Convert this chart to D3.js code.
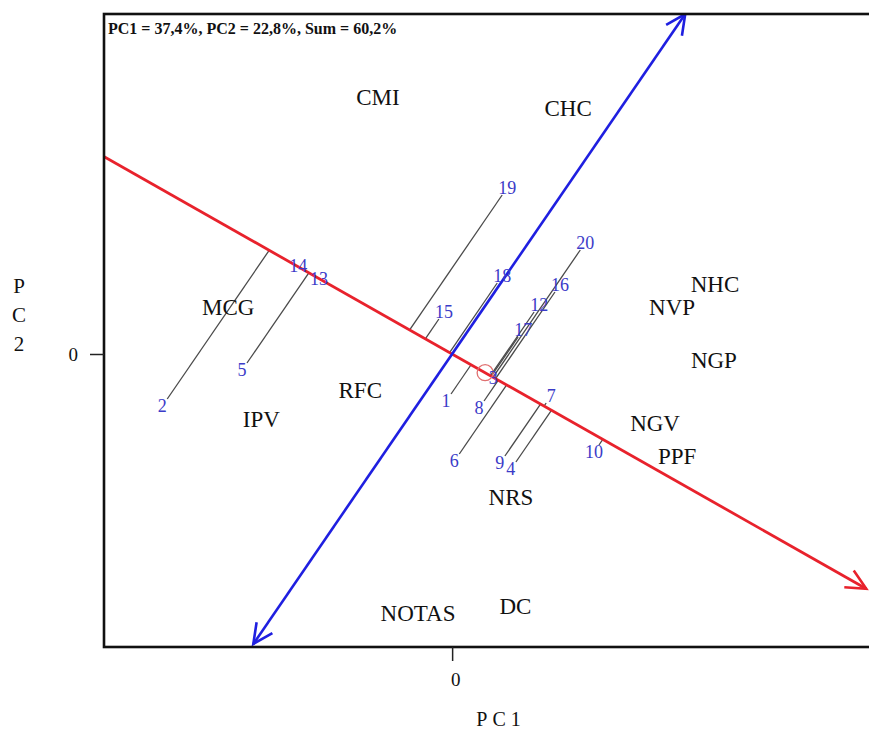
<!DOCTYPE html>
<html>
<head>
<meta charset="utf-8">
<script src="https://cdn.jsdelivr.net/npm/d3@7"></script>
<style>
  html, body { margin: 0; padding: 0; background: #fff; }
  svg { display: block; }
</style>
</head>
<body>
<svg id="chart" width="869" height="736"></svg>
<script>
// GGE biplot: average-environment coordination view
const subtitle = "PC1 = 37,4%, PC2 = 22,8%, Sum = 60,2%";
const xTicks = [0];
const yTicks = [0];
const xDomain = [-6.33, 7.78];
const yDomain = [-5.86, 6.8];

// genotype scores (PC1, PC2)
const genotypes = ["19", "18", "15", "20", "16", "12", "17", "3", "14", "13",
                   "2", "5", "1", "8", "6", "9", "4", "7", "10"];
const genoPC1 = [0.91, 0.82, -0.24, 2.33, 1.87, 1.49, 1.20, 0.75, -2.80, -2.42,
                 -5.18, -3.73, -0.02, 0.58, 0.13, 0.96, 1.16, 1.71, 2.67];
const genoPC2 = [3.18, 1.42, 0.70, 2.08, 1.24, 0.84, 0.34, -0.48, 1.76, 1.50,
                 -0.90, -0.18, -0.80, -0.94, -2.00, -2.04, -2.16, -0.98, -1.82];

// environment scores (PC1, PC2)
const environments = ["CMI", "CHC", "MCG", "NHC", "NVP", "NGP", "RFC", "IPV",
                      "NGV", "PPF", "NRS", "NOTAS", "DC"];
const envPC1 = [-1.35, 2.11, -4.07, 4.78, 4.00, 4.76, -1.67, -3.47, 3.69, 4.09, 1.07, -0.62, 1.15];
const envPC2 = [5.14, 4.92, 0.94, 1.40, 0.94, -0.12, -0.72, -1.30, -1.38, -2.04, -2.86, -5.18, -5.04];

// average environment and extents of the two AEC axes
const meanEnv = [0.60, -0.374];
const abscissaX = [-6.5, 7.53];   // PC1 extent of the AEC abscissa
const ordinateY = [-5.80, 6.80];  // PC2 extent of the AEC ordinate

const svg = d3.select("#chart");
const frame = { left: 104, top: 14, right: 880, bottom: 647 };

const x = d3.scaleLinear().domain(xDomain).range([frame.left, frame.right]);
const y = d3.scaleLinear().domain(yDomain).range([frame.bottom, frame.top]);

const serif = "'Liberation Serif', 'DejaVu Serif', serif";

svg.append("defs").append("clipPath").attr("id", "plotClip")
  .append("rect")
  .attr("x", frame.left).attr("y", frame.top)
  .attr("width", frame.right - frame.left).attr("height", frame.bottom - frame.top);

const plot = svg.append("g").attr("clip-path", "url(#plotClip)");

// unit vector of the average environment axis
const mLen = Math.hypot(meanEnv[0], meanEnv[1]);
const u = [meanEnv[0] / mLen, meanEnv[1] / mLen];
const slopeA = u[1] / u[0];
const slopeO = -u[0] / u[1];

// projection lines from each genotype onto the abscissa
const geno = genotypes.map((g, i) => {
  const p = [genoPC1[i], genoPC2[i]];
  const t = p[0] * u[0] + p[1] * u[1];
  return { name: g, p, foot: [t * u[0], t * u[1]] };
});

plot.selectAll("line.proj").data(geno).join("line")
  .attr("class", "proj")
  .attr("x1", d => x(d.p[0])).attr("y1", d => y(d.p[1]))
  .attr("x2", d => x(d.foot[0])).attr("y2", d => y(d.foot[1]))
  .attr("stroke", "#4a4a4a").attr("stroke-width", 1.3);

function arrowHead(g, from, to, color) {
  const ang = Math.atan2(to[1] - from[1], to[0] - from[0]);
  const len = 22, spread = 0.45;
  const pts = [
    [to[0] - len * Math.cos(ang - spread), to[1] - len * Math.sin(ang - spread)],
    to,
    [to[0] - len * Math.cos(ang + spread), to[1] - len * Math.sin(ang + spread)]
  ];
  g.append("path").attr("d", d3.line()(pts))
    .attr("fill", "none").attr("stroke", color).attr("stroke-width", 2.6)
    .attr("stroke-linejoin", "miter");
}

// AEC abscissa (red) with arrow toward the average environment
const a0 = [x(abscissaX[0]), y(abscissaX[0] * slopeA)];
const a1 = [x(abscissaX[1]), y(abscissaX[1] * slopeA)];
plot.append("line")
  .attr("x1", a0[0]).attr("y1", a0[1]).attr("x2", a1[0]).attr("y2", a1[1])
  .attr("stroke", "#e8222c").attr("stroke-width", 2.8);
arrowHead(plot, a0, a1, "#e8222c");

// AEC ordinate (blue), double headed
const o0 = [x(ordinateY[0] / slopeO), y(ordinateY[0])];
const o1 = [x(ordinateY[1] / slopeO), y(ordinateY[1])];
plot.append("line")
  .attr("x1", o0[0]).attr("y1", o0[1]).attr("x2", o1[0]).attr("y2", o1[1])
  .attr("stroke", "#1f1fe0").attr("stroke-width", 2.6);
arrowHead(plot, o0, o1, "#1f1fe0");
arrowHead(plot, o1, o0, "#1f1fe0");

// average environment marker
plot.append("circle")
  .attr("cx", x(meanEnv[0])).attr("cy", y(meanEnv[1])).attr("r", 8)
  .attr("fill", "none").attr("stroke", "#e07070").attr("stroke-width", 1.3);

// genotype labels, set just beyond the end of each projection line
plot.selectAll("text.geno").data(geno).join("text")
  .attr("class", "geno")
  .each(function (d) {
    const px = x(d.p[0]), py = y(d.p[1]);
    const fx = x(d.foot[0]), fy = y(d.foot[1]);
    let dx = px - fx, dy = py - fy;
    const L = Math.hypot(dx, dy);
    if (L < 3) { dx = 0; dy = 0; } else { dx /= L; dy /= L; }
    d3.select(this)
      .attr("x", px + dx * 9).attr("y", py + dy * 9);
  })
  .attr("text-anchor", "middle").attr("dominant-baseline", "central")
  .attr("font-family", serif).attr("font-size", 18)
  .attr("fill", "#3b3bc8")
  .text(d => d.name);

// environment labels
plot.selectAll("text.env").data(environments).join("text")
  .attr("class", "env")
  .attr("x", (d, i) => x(envPC1[i])).attr("y", (d, i) => y(envPC2[i]))
  .attr("text-anchor", "middle").attr("dominant-baseline", "central")
  .attr("font-family", serif).attr("font-size", 23)
  .attr("fill", "#111")
  .text(d => d);

// frame
svg.append("rect")
  .attr("x", frame.left).attr("y", frame.top)
  .attr("width", frame.right - frame.left).attr("height", frame.bottom - frame.top)
  .attr("fill", "none").attr("stroke", "#111").attr("stroke-width", 2.6);

svg.append("text")
  .attr("x", frame.left + 4).attr("y", frame.top + 20)
  .attr("font-family", serif).attr("font-size", 16).attr("font-weight", "bold")
  .attr("fill", "#111")
  .text(subtitle);

// axes
const xAxis = d3.axisBottom(x).tickValues(xTicks).tickSize(14).tickFormat(d3.format("d"));
const gx = svg.append("g").attr("transform", `translate(0,${frame.bottom})`).call(xAxis);
gx.select(".domain").remove();
gx.selectAll(".tick line").attr("stroke", "#222").attr("stroke-width", 1.5);
gx.selectAll(".tick text").attr("font-family", serif).attr("font-size", 19)
  .attr("fill", "#111").attr("dy", "1.15em").attr("x", 3);

const yAxis = d3.axisLeft(y).tickValues(yTicks).tickSize(14).tickFormat(d3.format("d"));
const gy = svg.append("g").attr("transform", `translate(${frame.left},0)`).call(yAxis);
gy.select(".domain").remove();
gy.selectAll(".tick line").attr("stroke", "#222").attr("stroke-width", 1.5);
gy.selectAll(".tick text").attr("font-family", serif).attr("font-size", 19)
  .attr("fill", "#111").attr("x", -26);

// axis titles
svg.append("text")
  .attr("x", 501).attr("y", 726).attr("text-anchor", "middle")
  .attr("font-family", serif).attr("font-size", 20).attr("fill", "#111")
  .attr("letter-spacing", "5px")
  .text("PC1");

svg.append("g").selectAll("text").data(["P", "C", "2"]).join("text")
  .attr("x", 19).attr("y", (d, i) => 286 + i * 29)
  .attr("text-anchor", "middle").attr("dominant-baseline", "central")
  .attr("font-family", serif).attr("font-size", 21).attr("fill", "#111")
  .text(d => d);
</script>
</body>
</html>
